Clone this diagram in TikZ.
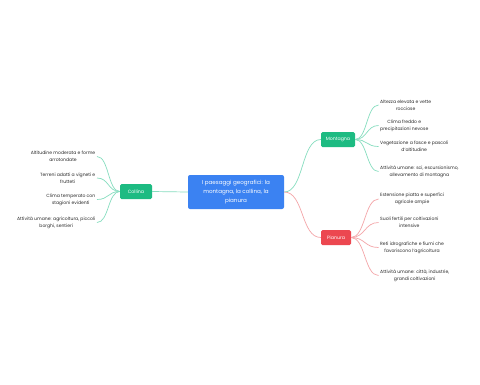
\documentclass[tikz,border=0pt]{standalone}
\usepackage{fontspec}
\setmainfont{Poppins}
\definecolor{mainblue}{HTML}{3B82F2}
\definecolor{nodegreen}{HTML}{1DBB82}
\definecolor{nodered}{HTML}{EC4750}
\definecolor{linkgreen}{HTML}{86DDBF}
\definecolor{linkred}{HTML}{F4A5A8}
\definecolor{textgray}{HTML}{2A2A2A}
\begin{document}
\begin{tikzpicture}[x=1pt,y=-1pt,
  mainbox/.style={fill=mainblue, rounded corners=2pt, text=white, font=\fontsize{5.6}{8.6}\selectfont, align=center, minimum width=96pt, minimum height=34pt, inner sep=0pt},
  subbox/.style={rounded corners=1.5pt, text=white, font=\fontsize{4.7}{6}\selectfont, minimum height=15pt, inner sep=0pt},
  leaf/.style={text=textgray, font=\fontsize{4.55}{6.8}\selectfont, align=center, inner sep=1.5pt},
  glink/.style={draw=linkgreen, line width=0.7pt},
  rlink/.style={draw=linkred, line width=0.7pt}]
\useasboundingbox[fill=white] (0,0) rectangle (480,384);

\node[mainbox] (c) at (236,192) {I paesaggi geografici: la\\montagna, la collina, la\\pianura};
\node[subbox, fill=nodegreen, minimum width=32pt] (col) at (136,191.5) {Collina};
\node[subbox, fill=nodegreen, minimum width=34pt] (mon) at (338,139.5) {Montagna};
\node[subbox, fill=nodered, minimum width=30pt] (pia) at (336,237.5) {Pianura};

% Collina leaves
\node[leaf, anchor=east] (l1) at (97,156.5) {Altitudine moderata e forme\\arrotondate};
\node[leaf, anchor=east] (l2) at (97,178) {Terreni adatti a vigneti e\\frutteti};
\node[leaf, anchor=east] (l3) at (97,199.5) {Clima temperato con\\stagioni evidenti};
\node[leaf, anchor=east] (l4) at (97,222.5) {Attività umane: agricoltura, piccoli\\borghi, sentieri};

% Montagna leaves
\node[leaf, anchor=west] (m1) at (378.5,105) {Altezza elevata e vette\\rocciose};
\node[leaf, anchor=west] (m2) at (378.5,125.5) {Clima freddo e\\precipitazioni nevose};
\node[leaf, anchor=west] (m3) at (378.5,146.5) {Vegetazione a fasce e pascoli\\d'altitudine};
\node[leaf, anchor=west] (m4) at (378.5,171.5) {Attività umane: sci, escursionismo,\\allevamento di montagna};

% Pianura leaves
\node[leaf, anchor=west] (p1) at (378.5,199) {Estensione piatta e superfici\\agricole ampie};
\node[leaf, anchor=west] (p2) at (378.5,222.5) {Suoli fertili per coltivazioni\\intensive};
\node[leaf, anchor=west] (p3) at (378.5,247.5) {Reti idrografiche e fiumi che\\favoriscono l'agricoltura};
\node[leaf, anchor=west] (p4) at (378.5,275.5) {Attività umane: città, industrie,\\grandi coltivazioni};

% main links
\draw[glink] (c.west) -- (col.east);
\draw[glink] (c.east) .. controls +(20,0) and +(-20,0) .. (mon.west);
\draw[rlink] (c.east) .. controls +(20,0) and +(-20,0) .. (pia.west);

% leaf links
\foreach \n in {l1,l2,l3,l4}
  \draw[glink] (col.west) .. controls +(-12,0) and +(12,0) .. (\n.east);
\foreach \n in {m1,m2,m3,m4}
  \draw[glink] (mon.east) .. controls +(12,0) and +(-12,0) .. (\n.west);
\foreach \n in {p1,p2,p3,p4}
  \draw[rlink] (pia.east) .. controls +(14,0) and +(-14,0) .. (\n.west);
\end{tikzpicture}
\end{document}
